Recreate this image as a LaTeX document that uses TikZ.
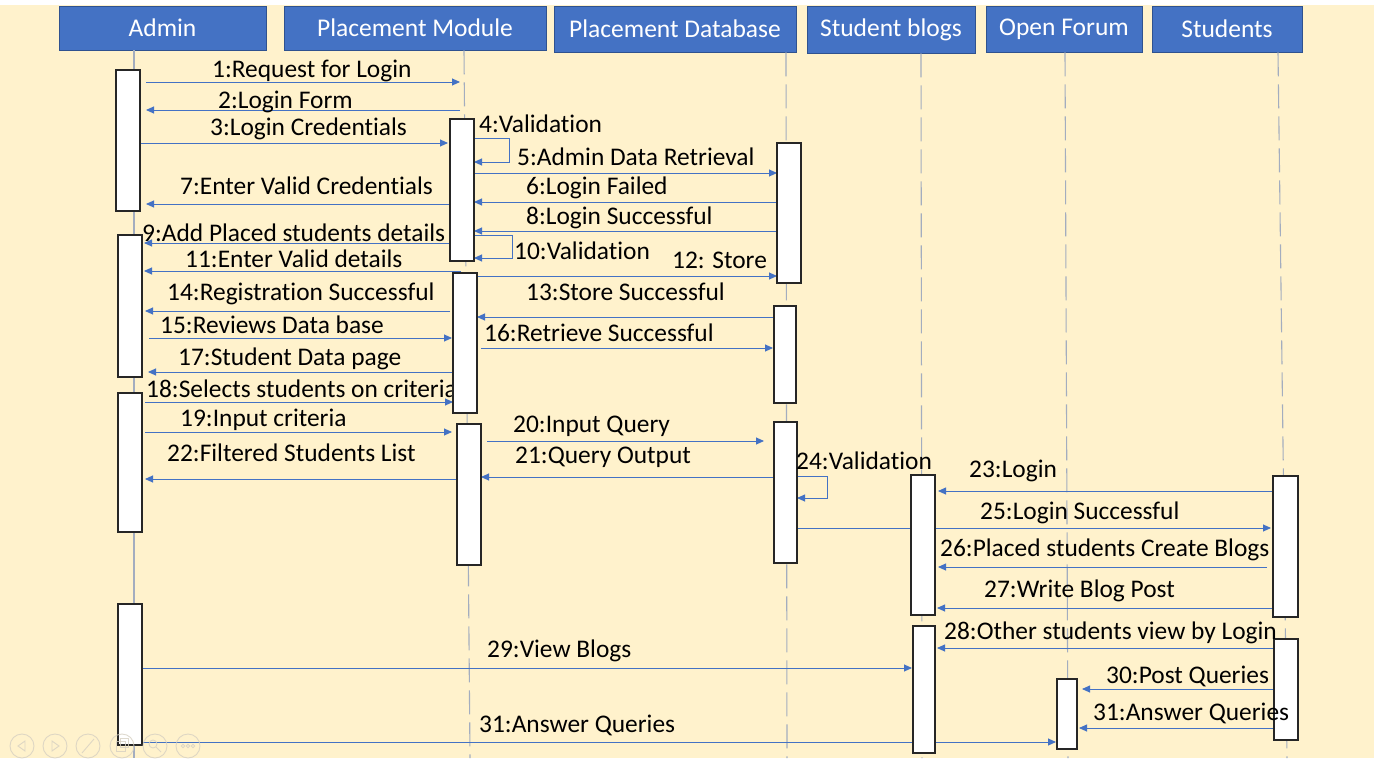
\documentclass[tikz,border=0pt]{standalone}
\usepackage{fontspec}
\setmainfont{Carlito}[Ligatures=NoCommon]
\usetikzlibrary{arrows.meta}
\definecolor{bg}{HTML}{FFF2CC}
\definecolor{hdr}{HTML}{4472C4}
\definecolor{hdrb}{HTML}{2F528F}
\definecolor{msgc}{HTML}{4472C4}
\definecolor{lifec}{HTML}{A3ADBF}
\definecolor{ctrl}{HTML}{D6D0C2}
\tikzset{
 header/.style={fill=hdr, draw=hdrb, line width=0.8pt, text=white, font=\fontsize{25.5}{30}\selectfont, inner sep=0pt},
 act/.style={fill=white, draw=black!85, line width=1.5pt, inner sep=0pt, outer sep=0pt},
 life/.style={draw=lifec, line width=1.1pt},
 lifedash/.style={life, dash pattern=on 24pt off 8pt},
 msg/.style={draw=msgc, line width=0.9pt, -{Triangle[length=8pt,width=7pt]}},
 lbl/.style={anchor=base west, inner sep=0pt, font=\fontsize{25.4}{30}\selectfont, text=black},
 ctrlc/.style={draw=ctrl, line width=0.9pt},
}
\newcommand{\actbox}[5]{\node[act, minimum width={#3-#2}, minimum height={#5-#4}] (#1) at ({(#2+#3)/2},{(#4+#5)/2}) {};}
\begin{document}
\begin{tikzpicture}[x=1pt,y=-1pt]
\useasboundingbox (0,0) rectangle (1374,758);
\fill[bg] (0,0) rectangle (1374,758);
\fill[white] (0,0) rectangle (1374,5);

% headers
\node[header, minimum width=207pt, minimum height=44pt] (hAdmin) at (162.5,28) {Admin};
\node[header, minimum width=262pt, minimum height=44pt] (hPM) at (415,28) {Placement Module};
\node[header, minimum width=242pt, minimum height=46pt] (hPD) at (675,29) {Placement Database};
\node[header, minimum width=168pt, minimum height=47pt] (hSB) at (891,29.5) {Student blogs};
\node[header, minimum width=156pt, minimum height=46pt] (hOF) at (1064,29) {Open Forum};
\node[header, minimum width=150pt, minimum height=46pt] (hST) at (1227,29) {Students};

% lifelines
\coordinate (eAdmin) at (134,758);
\coordinate (ePM) at (470,758);
\coordinate (ePD) at (787,758);
\coordinate (eSB) at (922,758);
\coordinate (eOF) at (1068,758);
\coordinate (eST) at (1287,758);
\draw[life] (hAdmin.south -| 134,0) -- (eAdmin);
\draw[lifedash] (hPM.south -| 464,0) -- (ePM);
\draw[lifedash] (hPD.south -| 786,0) -- (ePD);
\draw[lifedash] (hSB.south -| 921,0) -- (eSB);
\draw[lifedash] (hOF.south -| 1065,0) -- (eOF);
\draw[lifedash] (hST.south -| 1278,0) -- (eST);

% activation boxes (invisible references; drawn visibly on top below)
\begin{scope}[opacity=0]
\actbox{A1}{116}{140}{70}{211}
\actbox{A2}{118}{142}{235}{377}
\actbox{A3}{118}{142}{393}{532}
\actbox{A4}{118}{142}{604}{745}
\actbox{P1}{450}{474}{119}{261}
\actbox{P2}{453}{477}{273}{413}
\actbox{P3}{457}{481}{424}{565}
\actbox{D1}{777}{801}{143}{283}
\actbox{D2}{774}{796}{306}{403}
\actbox{D3}{774}{797}{422}{563}
\actbox{S1}{911}{935}{475}{615}
\actbox{S2}{913}{935}{626}{753}
\actbox{O1}{1057}{1077}{679}{749}
\actbox{T1}{1273}{1298}{476}{617}
\actbox{T2}{1274}{1298}{639}{740}
\end{scope}

% free ends on the Placement Module lifeline
\coordinate (pm1) at (460,82);
\coordinate (pm2) at (460,110);
\coordinate (pm11) at (461,271);

% messages
\draw[msg, shorten <=6pt] (A1.east |- 0,82) -- (pm1);
\draw[msg, shorten >=6pt] (pm2) -- (A1.east |- 0,110);
\draw[msg, shorten <=1pt, shorten >=2pt] (A1.east |- 0,143) -- (P1.west |- 0,143);
\draw[msg] (P1.east |- 0,138) -- (509,138) -- (509,162) -- (P1.east |- 0,162);
\draw[msg] (P1.east |- 0,173) -- (D1.west |- 0,173);
\draw[msg] (D1.west |- 0,202) -- (P1.east |- 0,202);
\draw[msg, shorten >=6pt] (P1.west |- 0,204) -- (A1.east |- 0,204);
\draw[msg] (D1.west |- 0,231) -- (P1.east |- 0,231);
\draw[msg, shorten >=2pt] (P1.west |- 0,243) -- (A2.east |- 0,243);
\draw[msg] (P1.east |- 0,235) -- (512,235) -- (512,258) -- (P1.east |- 0,258);
\draw[msg, shorten >=2pt] (pm11) -- (A2.east |- 0,271);
\draw[msg] (P2.east |- 0,276) -- (D1.west |- 0,276);
\draw[msg] (D2.west |- 0,317) -- (P2.east |- 0,317);
\draw[msg, shorten <=3pt, shorten >=3pt] (P2.west |- 0,311) -- (A2.east |- 0,311);
\draw[msg, shorten <=7pt, shorten >=1pt] (A2.east |- 0,338) -- (P2.west |- 0,338);
\draw[msg, shorten <=4pt, shorten >=1pt] (P2.east |- 0,348) -- (D2.west |- 0,348);
\draw[msg, shorten >=6pt] (P2.west |- 0,372) -- (A2.east |- 0,372);
\draw[msg, shorten <=3pt] (A3.east |- 0,402) -- (P2.west |- 0,402);
\draw[msg, shorten <=3pt, shorten >=5pt] (A3.east |- 0,432) -- (P3.west |- 0,432);
\draw[msg, shorten <=6pt, shorten >=10pt] (P3.east |- 0,441) -- (D3.west |- 0,441);
\draw[msg] (D3.west |- 0,477) -- (P3.east |- 0,477);
\draw[msg, shorten >=3pt] (P3.west |- 0,479) -- (A3.east |- 0,479);
\draw[msg] (D3.east |- 0,476) -- (827,476) -- (827,498) -- (D3.east |- 0,498);
\draw[msg, shorten >=3pt] (T1.west |- 0,491) -- (S1.east |- 0,491);
\draw[msg, shorten >=2pt] (D3.east |- 0,528) -- (T1.west |- 0,528);
\draw[msg, shorten <=6pt, shorten >=3pt] (T1.west |- 0,567) -- (S1.east |- 0,567);
\draw[msg, shorten >=2pt] (T1.west |- 0,608) -- (S1.east |- 0,608);
\draw[msg, shorten >=2pt] (T2.west |- 0,648) -- (S2.east |- 0,648);
\draw[msg, shorten >=1pt] (A4.east |- 0,668) -- (S2.west |- 0,668);
\draw[msg, shorten >=5pt] (T2.west |- 0,689) -- (O1.east |- 0,689);
\draw[msg, shorten >=2pt] (T2.center |- 0,728) -- (O1.east |- 0,728);
\draw[msg, shorten >=1pt] (A4.east |- 0,742) -- (O1.west |- 0,742);

% activation boxes drawn on top
\actbox{A1v}{116}{140}{70}{211}
\actbox{A2v}{118}{142}{235}{377}
\actbox{A3v}{118}{142}{393}{532}
\actbox{A4v}{118}{142}{604}{745}
\actbox{P1v}{450}{474}{119}{261}
\actbox{D1v}{777}{801}{143}{283}
\actbox{D2v}{774}{796}{306}{403}
\actbox{D3v}{774}{797}{422}{563}
\actbox{S1v}{911}{935}{475}{615}
\actbox{S2v}{913}{935}{626}{753}
\actbox{O1v}{1057}{1077}{679}{749}
\actbox{T1v}{1273}{1298}{476}{617}
\actbox{T2v}{1274}{1298}{639}{740}
\actbox{P3v}{457}{481}{424}{565}

% labels
\node[lbl] (l1) at (212,77) {1:Request for Login};
\node[lbl] (l2) at (218,108) {2:Login Form};
\node[lbl] (l3) at (210,135) {3:Login Credentials};
\node[lbl] (l4) at (479,132) {4:Validation};
\node[lbl] (l5) at (517,165) {5:Admin Data Retrieval};
\node[lbl] (l6) at (526,194) {6:Login Failed};
\node[lbl] (l7) at (180,194) {7:Enter Valid Credentials};
\node[lbl] (l8) at (526,224) {8:Login Successful};
\node[lbl] (l9) at (142,241) {9:Add Placed students details};
\node[lbl] (l10) at (514,259) {10:Validation};
\node[lbl] (l11) at (185,267) {11:Enter Valid details};
\node[lbl] (l12) at (672,268) {12: Store};
\node[lbl] (l13) at (526,300) {13:Store Successful};
\node[lbl] (l14) at (167,300) {14:Registration Successful};
\node[lbl] (l15) at (160,333) {15:Reviews Data base};
\node[lbl] (l16) at (484,341) {16:Retrieve Successful};
\node[lbl] (l17) at (178,365) {17:Student Data page};
\node[lbl] (l18) at (146,397) {18:Selects students on criteria};
\actbox{P2v}{453}{477}{273}{413}
\node[lbl] (l19) at (180,426) {19:Input criteria};
\node[lbl] (l20) at (513,432) {20:Input Query};
\node[lbl] (l21) at (515,463) {21:Query Output};
\node[lbl] (l22) at (167,461) {22:Filtered Students List};
\node[lbl] (l23) at (969,477) {23:Login};
\node[lbl] (l24) at (796,469) {24:Validation};
\node[lbl] (l25) at (980,519) {25:Login Successful};
\node[lbl] (l26) at (940,556) {26:Placed students Create Blogs};
\node[lbl] (l27) at (984,597) {27:Write Blog Post};
\node[lbl] (l28) at (944,639) {28:Other students view by Login};
\node[lbl] (l29) at (487,657) {29:View Blogs};
\node[lbl] (l30) at (1106,683) {30:Post Queries};
\node[lbl] (l31a) at (1093,720) {31:Answer Queries};
\node[lbl] (l31b) at (479,732) {31:Answer Queries};

% faint slide controls
\begin{scope}[ctrlc, opacity=0.8]
\draw (22,746) circle (12);
\draw (55,746) circle (12);
\draw (88,746) circle (12);
\draw (122,746) circle (12);
\draw (155,746) circle (12);
\draw (188,746) circle (12);
\draw (25,741) -- (18,746) -- (25,751) -- cycle;
\draw (52,741) -- (59,746) -- (52,751) -- cycle;
\draw (82,753) -- (94,739);
\draw (116,741) rectangle (125,751);
\draw (120,738) rectangle (128,747);
\draw (153,744) circle (4);
\draw (156,747) -- (161,752);
\draw (183,746) circle (1.8);
\draw (188,746) circle (1.8);
\draw (193,746) circle (1.8);
\end{scope}
\end{tikzpicture}
\end{document}
